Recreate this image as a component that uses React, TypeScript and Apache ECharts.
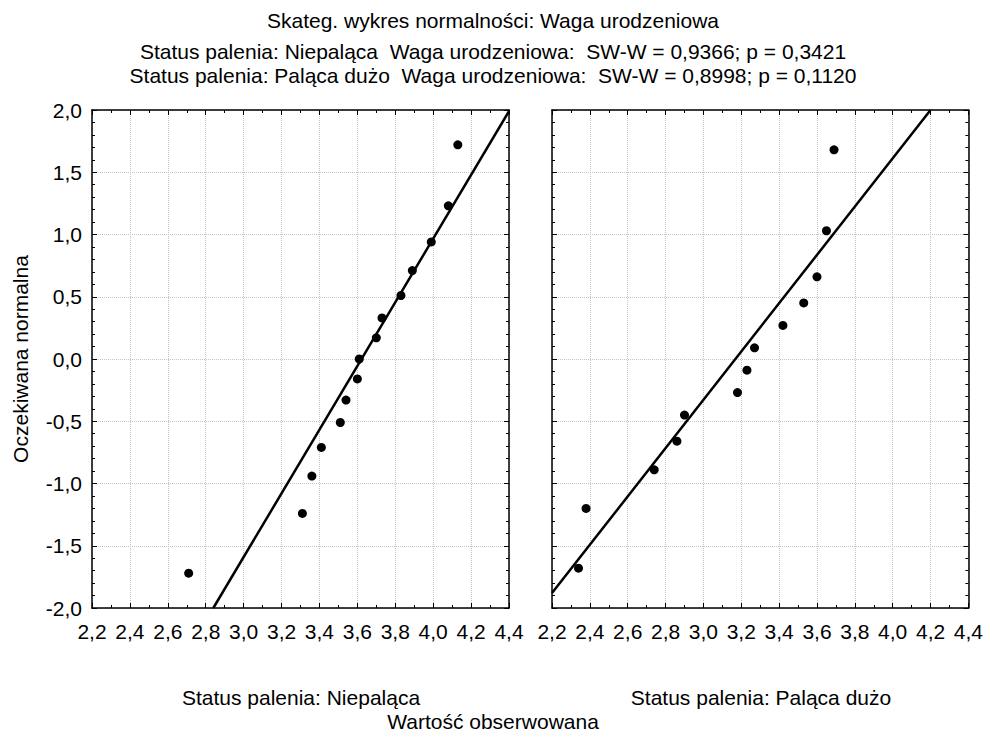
import React, { useEffect, useRef } from "react";
import * as echarts from "echarts";

// Observed birth weight (kg) against expected normal value, non-smoking mothers
const nonSmokerObserved = [2.71, 3.31, 3.36, 3.41, 3.51, 3.54, 3.6, 3.61, 3.7, 3.73, 3.83, 3.89, 3.99, 4.08, 4.13];
const nonSmokerExpected = [-1.72, -1.24, -0.94, -0.71, -0.51, -0.33, -0.16, 0.0, 0.17, 0.33, 0.51, 0.71, 0.94, 1.23, 1.72];

// Heavy smokers
const heavySmokerObserved = [2.34, 2.38, 2.74, 2.86, 2.9, 3.18, 3.23, 3.27, 3.42, 3.53, 3.6, 3.65, 3.69];
const heavySmokerExpected = [-1.68, -1.2, -0.89, -0.66, -0.45, -0.27, -0.09, 0.09, 0.27, 0.45, 0.66, 1.03, 1.68];

// Reference normal lines (end points)
const nonSmokerLine = [[2.84, -2.0], [4.4, 1.99]];
const heavySmokerLine = [[2.2, -1.88], [4.2, 2.0]];

const titleLines = [
  "Skateg. wykres normalności: Waga urodzeniowa",
  "Status palenia: Niepaląca  Waga urodzeniowa:  SW-W = 0,9366; p = 0,3421",
  "Status palenia: Paląca dużo  Waga urodzeniowa:  SW-W = 0,8998; p = 0,1120",
];
const panelLabels = ["Status palenia: Niepaląca", "Status palenia: Paląca dużo"];
const xAxisTitle = "Wartość obserwowana";
const yAxisTitle = "Oczekiwana normalna";

const FONT = "'Liberation Sans', Arial, sans-serif";
const FS = 21;

const fmt = (v: number) => v.toFixed(1).replace(".", ",");

export default function App() {
  const ref = useRef<HTMLDivElement>(null);

  useEffect(() => {
    if (!ref.current) return;
    const chart = echarts.init(ref.current, undefined, { renderer: "svg" });

    const grids = [
      { left: 92, top: 110, width: 417, height: 498 },
      { left: 552, top: 110, width: 417, height: 498 },
    ];

    const frameLine = { show: true, onZero: false, lineStyle: { color: "#000", width: 1.5 } };
    const tick = { show: true, inside: true, length: 5, lineStyle: { color: "#000", width: 1 } };
    const minor = (n: number) => ({ show: true, splitNumber: n, length: 3, lineStyle: { color: "#000", width: 1 } });
    const grid = { show: true, lineStyle: { color: "#c4c4c4", type: "dotted", width: 1 } };
    const label = (show: boolean, margin: number) => ({
      show,
      fontSize: FS,
      fontFamily: FONT,
      color: "#000",
      margin,
      formatter: fmt,
    });

    const xAxes: any[] = [];
    const yAxes: any[] = [];
    [0, 1].forEach((g) => {
      const xBase = { type: "value", gridIndex: g, min: 2.2, max: 4.4, interval: 0.2, axisLine: frameLine, axisTick: tick, minorTick: minor(2) };
      xAxes.push({ ...xBase, position: "bottom", splitLine: grid, axisLabel: label(true, 13) });
      xAxes.push({ ...xBase, position: "top", splitLine: { show: false }, axisLabel: label(false, 10) });
      const yBase = { type: "value", gridIndex: g, min: -2, max: 2, interval: 0.5, axisLine: frameLine, axisTick: tick, minorTick: minor(5) };
      yAxes.push({ ...yBase, position: "left", splitLine: grid, axisLabel: label(g === 0, 10) });
      yAxes.push({ ...yBase, position: "right", splitLine: { show: false }, axisLabel: label(false, 10) });
    });

    const zip = (xs: number[], ys: number[]) => xs.map((x, i) => [x, ys[i]]);
    const scatter = (g: number, data: number[][]) => ({
      type: "scatter",
      xAxisIndex: g * 2,
      yAxisIndex: g * 2,
      data,
      symbol: "circle",
      symbolSize: 9,
      itemStyle: { color: "#000", opacity: 1 },
      z: 3,
    });
    const refLine = (g: number, data: number[][]) => ({
      type: "line",
      xAxisIndex: g * 2,
      yAxisIndex: g * 2,
      data,
      symbol: "none",
      clip: true,
      lineStyle: { color: "#000", width: 2.5 },
      z: 2,
    });

    const text = (t: string, x: number, y: number, extra: any = {}) => ({
      type: "text",
      x,
      y,
      style: { text: t, fontSize: FS, fontFamily: FONT, fill: "#000", textAlign: "center", textVerticalAlign: "middle" },
      ...extra,
    });

    chart.setOption({
      animation: false,
      backgroundColor: "#fff",
      grid: grids,
      xAxis: xAxes,
      yAxis: yAxes,
      series: [
        refLine(0, nonSmokerLine),
        scatter(0, zip(nonSmokerObserved, nonSmokerExpected)),
        refLine(1, heavySmokerLine),
        scatter(1, zip(heavySmokerObserved, heavySmokerExpected)),
      ],
      graphic: [
        text(titleLines[0], 493, 20),
        text(titleLines[1], 493, 51),
        text(titleLines[2], 493, 75),
        text(panelLabels[0], 301, 697),
        text(panelLabels[1], 761, 697),
        text(xAxisTitle, 493, 721),
        text(yAxisTitle, 20, 359, { rotation: Math.PI / 2 }),
      ],
    });

    return () => chart.dispose();
  }, []);

  return (
    <div
      ref={ref}
      style={{ position: "absolute", left: 0, top: 0, width: 986, height: 736, background: "#fff" }}
    />
  );
}
